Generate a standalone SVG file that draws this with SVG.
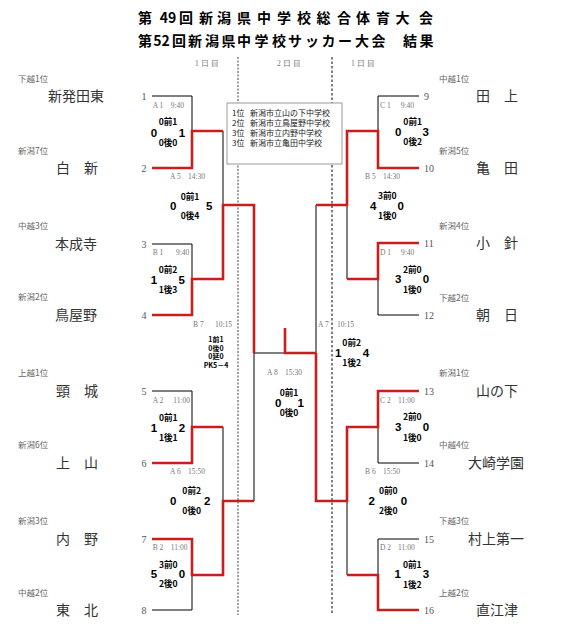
<svg xmlns="http://www.w3.org/2000/svg" width="561" height="629" viewBox="0 0 561 629">
<style>
.title{font-family:"Noto Sans CJK JP","Noto Sans",sans-serif;font-weight:bold;font-size:14px;fill:#000;text-anchor:middle}
.name{font-family:"Noto Sans CJK JP",sans-serif;font-size:14px;fill:#333;text-anchor:middle}
.rank{font-family:"Noto Sans CJK JP",sans-serif;font-size:8.5px;fill:#666}
.num{font-family:"Liberation Serif",serif;font-size:10px;fill:#555}
.ml{font-family:"Liberation Serif",serif;font-size:7.5px;fill:#777}
.sm{font-family:"Noto Sans CJK JP",sans-serif;font-weight:bold;font-size:8.6px;fill:#000;text-anchor:middle}
.pk{font-family:"Noto Sans CJK JP",sans-serif;font-weight:bold;font-size:7px;fill:#000;text-anchor:middle}
.big{font-family:"Liberation Sans",sans-serif;font-weight:bold;font-size:11.5px;fill:#000;text-anchor:middle}
.box{font-family:"Noto Sans CJK JP",sans-serif;font-size:8px;fill:#222}
.k{stroke:#000;stroke-width:1;fill:none}
.r{stroke:#c81e1e;stroke-width:2.6;fill:none}
</style>
<rect width="561" height="629" fill="#fff"/>
<g id="title">
<text class="title" y="22.6"><tspan x="145">第</tspan><tspan x="168">49</tspan><tspan x="186">回</tspan><tspan x="206">新</tspan><tspan x="224">潟</tspan><tspan x="244">県</tspan><tspan x="264">中</tspan><tspan x="284">学</tspan><tspan x="304">校</tspan><tspan x="323.5">総</tspan><tspan x="344">合</tspan><tspan x="363">体</tspan><tspan x="383">育</tspan><tspan x="402.5">大</tspan><tspan x="426">会</tspan></text>
<text class="title" y="46"><tspan x="145">第</tspan><tspan x="161.5">52</tspan><tspan x="179">回</tspan><tspan x="195">新</tspan><tspan x="212">潟</tspan><tspan x="228.5">県</tspan><tspan x="244">中</tspan><tspan x="261.5">学</tspan><tspan x="279">校</tspan><tspan x="295">サ</tspan><tspan x="312">ッ</tspan><tspan x="328.5">カ</tspan><tspan x="345">ー</tspan><tspan x="362">大</tspan><tspan x="378.5">会</tspan><tspan x="410">結</tspan><tspan x="426.5">果</tspan></text>
</g>
<g id="days">
<text class="ml" x="195" y="65.5">1 日 目</text>
<text class="ml" x="277" y="65.5">2 日 目</text>
<text class="ml" x="351" y="65.5">1 日 目</text>
<line x1="238" y1="57" x2="238" y2="615" stroke="#888" stroke-width="1.6" stroke-dasharray="2 1.5"/>
<line x1="332" y1="57" x2="332" y2="613" stroke="#000" stroke-width="1" stroke-dasharray="2.5 2"/>
</g>
<g id="connectors">
<path class="k" d="M152,96H192V131"/>
<path class="k" d="M223,131V205"/>
<path class="k" d="M152,244H192V279"/>
<path class="k" d="M254,353H285"/>
<path class="k" d="M152,391H192V427"/>
<path class="k" d="M223,427V501"/>
<path class="k" d="M152,610H192V575"/>
<path class="k" d="M254,501V353"/>
<path class="k" d="M419,96H378V131"/>
<path class="k" d="M347,205V279"/>
<path class="k" d="M419,315H378V279"/>
<path class="k" d="M316,205V353"/>
<path class="k" d="M419,463H378V427"/>
<path class="k" d="M347,501V575"/>
<path class="k" d="M419,539H378V575"/>
<path class="r" d="M152,168H192V131H223"/>
<path class="r" d="M152,315H192V279H223V205H254V353"/>
<path class="r" d="M285,328V353H316"/>
<path class="r" d="M152,463H192V427H223"/>
<path class="r" d="M152,539H192V575H223V501H254"/>
<path class="r" d="M419,168H378V131H347V205H316"/>
<path class="r" d="M419,243H378V279H347"/>
<path class="r" d="M419,391H378V427H347V501H316V353"/>
<path class="r" d="M419,610H378V575H347"/>
</g>
<g id="result-box">
<rect x="227" y="103" width="115" height="61" fill="#fff" stroke="#999" stroke-width="1"/>
<text class="box" x="232" y="115.7">1位<tspan x="250">新潟市立山の下中学校</tspan></text>
<text class="box" x="232" y="126.3">2位<tspan x="250">新潟市立鳥屋野中学校</tspan></text>
<text class="box" x="232" y="136.3">3位<tspan x="250">新潟市立内野中学校</tspan></text>
<text class="box" x="232" y="146.3">3位<tspan x="250">新潟市立亀田中学校</tspan></text>
</g>
<g id="team1"><text class="rank" x="18" y="82">下越1位</text><text class="name" x="76" y="101.3">新発田東</text><text class="num" x="144" y="99.5" text-anchor="middle">1</text></g>
<g id="team2"><text class="rank" x="18" y="153.7">新潟7位</text><text class="name" x="77" y="173.3">白　新</text><text class="num" x="144" y="171.5" text-anchor="middle">2</text></g>
<g id="team3"><text class="rank" x="18" y="229">中越3位</text><text class="name" x="76" y="249.3">本成寺</text><text class="num" x="144" y="247.5" text-anchor="middle">3</text></g>
<g id="team4"><text class="rank" x="18" y="300">新潟2位</text><text class="name" x="76" y="320.3">鳥屋野</text><text class="num" x="144" y="318.5" text-anchor="middle">4</text></g>
<g id="team5"><text class="rank" x="18" y="376">上越1位</text><text class="name" x="77" y="396.3">頸　城</text><text class="num" x="144" y="394.5" text-anchor="middle">5</text></g>
<g id="team6"><text class="rank" x="18" y="448">新潟6位</text><text class="name" x="77" y="468.3">上　山</text><text class="num" x="144" y="466.5" text-anchor="middle">6</text></g>
<g id="team7"><text class="rank" x="18" y="524">新潟3位</text><text class="name" x="77" y="544.3">内　野</text><text class="num" x="144" y="542.5" text-anchor="middle">7</text></g>
<g id="team8"><text class="rank" x="18" y="596">中越2位</text><text class="name" x="77" y="615.3">東　北</text><text class="num" x="144" y="613.5" text-anchor="middle">8</text></g>
<g id="team9"><text class="rank" x="439" y="82">中越1位</text><text class="name" x="497" y="101.3">田　上</text><text class="num" x="424" y="99.5">9</text></g>
<g id="team10"><text class="rank" x="439" y="153.7">新潟5位</text><text class="name" x="497" y="173.3">亀　田</text><text class="num" x="424" y="171.5">10</text></g>
<g id="team11"><text class="rank" x="439" y="229">新潟4位</text><text class="name" x="497" y="248.3">小　針</text><text class="num" x="424" y="246.5">11</text></g>
<g id="team12"><text class="rank" x="439" y="301">下越2位</text><text class="name" x="497" y="320.3">朝　日</text><text class="num" x="424" y="318.5">12</text></g>
<g id="team13"><text class="rank" x="439" y="376">新潟1位</text><text class="name" x="497" y="396.3">山の下</text><text class="num" x="424" y="394.5">13</text></g>
<g id="team14"><text class="rank" x="439" y="448">中越4位</text><text class="name" x="496" y="468.3">大崎学園</text><text class="num" x="424" y="466.5">14</text></g>
<g id="team15"><text class="rank" x="439" y="524">下越3位</text><text class="name" x="496" y="544.3">村上第一</text><text class="num" x="424" y="542.5">15</text></g>
<g id="team16"><text class="rank" x="439" y="596">上越2位</text><text class="name" x="497" y="615.3">直江津</text><text class="num" x="424" y="613.5">16</text></g>
<g id="A1"><text class="ml" x="152.7" y="108.2">A 1<tspan x="170.7">9:40</tspan></text><text class="sm" x="168" y="125.3">0前1</text><text class="big" x="154" y="136.7">0</text><text class="big" x="182" y="136.7">1</text><text class="sm" x="168" y="145.7">0後0</text></g>
<g id="A5"><text class="ml" x="170" y="179.2">A 5<tspan x="188">14:30</tspan></text><text class="sm" x="190" y="199.7">0前1</text><text class="big" x="173.3" y="209.7">0</text><text class="big" x="209.3" y="209.7">5</text><text class="sm" x="190" y="218.7">0後4</text></g>
<g id="B1"><text class="ml" x="152.7" y="254.5">B 1<tspan x="176">9:40</tspan></text><text class="sm" x="168" y="273">0前2</text><text class="big" x="154" y="284">1</text><text class="big" x="181.7" y="284">5</text><text class="sm" x="168" y="293">1後3</text></g>
<g id="B7"><text class="ml" x="193" y="326.5">B 7<tspan x="215">10:15</tspan></text><text class="pk" x="216" y="342">1前1</text><text class="pk" x="216" y="350.5">0後0</text><text class="pk" x="216" y="359">0延0</text><text class="pk" x="216" y="367.5">PK5－4</text></g>
<g id="A8"><text class="ml" x="267" y="375.2">A 8<tspan x="285">15:30</tspan></text><text class="sm" x="289" y="395.7">0前1</text><text class="big" x="278.3" y="406.7">0</text><text class="big" x="300.7" y="406.7">1</text><text class="sm" x="289" y="415.7">0後0</text></g>
<g id="A7"><text class="ml" x="318" y="326.5">A 7<tspan x="337">10:15</tspan></text><text class="sm" x="351.7" y="346.3">0前2</text><text class="big" x="338.3" y="357.3">1</text><text class="big" x="366" y="357.3">4</text><text class="sm" x="351.7" y="366.3">1後2</text></g>
<g id="C1"><text class="ml" x="380" y="108.2">C 1<tspan x="400.7">9:40</tspan></text><text class="sm" x="412.7" y="125.3">0前1</text><text class="big" x="398.3" y="136">0</text><text class="big" x="425.7" y="136">3</text><text class="sm" x="412.7" y="145.3">0後2</text></g>
<g id="B5"><text class="ml" x="365" y="179.2">B 5<tspan x="383">14:30</tspan></text><text class="sm" x="387.3" y="199">3前0</text><text class="big" x="373.3" y="210">4</text><text class="big" x="400.7" y="210">0</text><text class="sm" x="387.3" y="219">1後0</text></g>
<g id="D1"><text class="ml" x="380" y="254.8">D 1<tspan x="401">9:40</tspan></text><text class="sm" x="412.3" y="273">2前0</text><text class="big" x="398.3" y="283.3">3</text><text class="big" x="426" y="283.3">0</text><text class="sm" x="412.3" y="293">1後0</text></g>
<g id="A2"><text class="ml" x="152.7" y="402.5">A 2<tspan x="173.3">11:00</tspan></text><text class="sm" x="168.3" y="420.7">0前1</text><text class="big" x="154" y="431.7">1</text><text class="big" x="182" y="431.7">2</text><text class="sm" x="168.3" y="440.7">1後1</text></g>
<g id="A6"><text class="ml" x="170" y="473.5">A 6<tspan x="188">15:50</tspan></text><text class="sm" x="191.7" y="494">0前2</text><text class="big" x="173.3" y="505">0</text><text class="big" x="207.3" y="505">2</text><text class="sm" x="191.7" y="514">0後0</text></g>
<g id="B2"><text class="ml" x="152.7" y="550.2">B 2<tspan x="170.7">11:00</tspan></text><text class="sm" x="168.3" y="568">3前0</text><text class="big" x="154" y="578.3">5</text><text class="big" x="182" y="578.3">0</text><text class="sm" x="168.3" y="587.3">2後0</text></g>
<g id="C2"><text class="ml" x="380" y="402.5">C 2<tspan x="398">11:00</tspan></text><text class="sm" x="412.3" y="420.3">2前0</text><text class="big" x="398.3" y="431.3">3</text><text class="big" x="426" y="431.3">0</text><text class="sm" x="412.3" y="440.7">1後0</text></g>
<g id="B6"><text class="ml" x="365" y="474.2">B 6<tspan x="383">15:50</tspan></text><text class="sm" x="388.3" y="494">0前0</text><text class="big" x="371.7" y="505">2</text><text class="big" x="404" y="505">0</text><text class="sm" x="388.3" y="514">2後0</text></g>
<g id="D2"><text class="ml" x="380" y="550.2">D 2<tspan x="398">11:00</tspan></text><text class="sm" x="412.3" y="568">0前1</text><text class="big" x="397.7" y="578.3">1</text><text class="big" x="426" y="578.3">3</text><text class="sm" x="412.3" y="588">1後2</text></g>
</svg>
